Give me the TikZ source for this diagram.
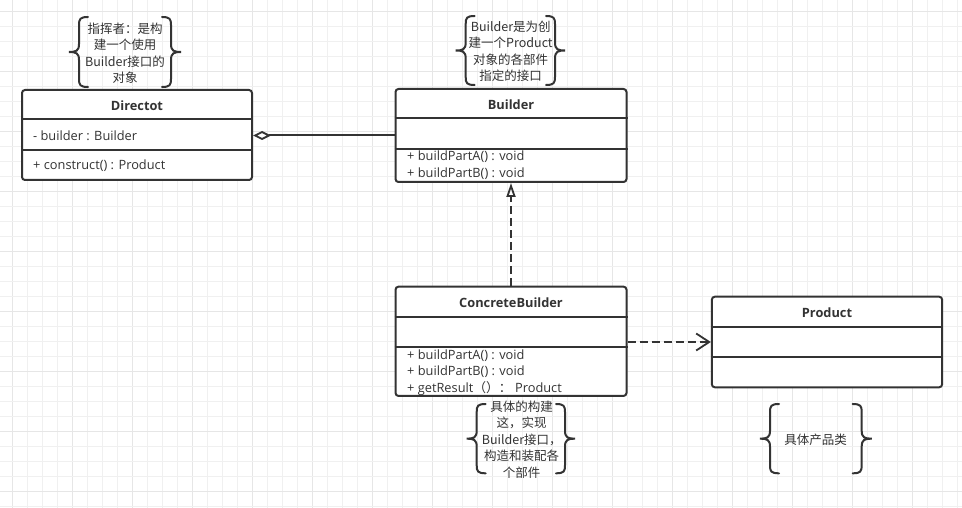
\documentclass[tikz,border=0pt]{standalone}
\usepackage{fontspec}
\setmainfont{Open Sans}
\newfontfamily\cjk{Noto Sans CJK SC}
\usetikzlibrary{arrows.meta}
\definecolor{ink}{HTML}{333333}
\definecolor{gridminor}{HTML}{F0F0F0}
\definecolor{gridmajor}{HTML}{E6E6E6}
\newcommand\mycurly[4]{%
  \pgfmathsetmacro\mymid{(#3+#4)/2}%
  \draw[bracestyle] ({#1+9},#3) .. controls ({#1+1},#3) and (#1,{#3+2}) .. (#1,{#3+8})
    -- (#1,{\mymid-8}) .. controls (#1,{\mymid-1}) and ({#1-3},\mymid) .. ({#1-10},\mymid)
    .. controls ({#1-3},\mymid) and (#1,{\mymid+1}) .. (#1,{\mymid+8})
    -- (#1,{#4-8}) .. controls (#1,{#4-2}) and ({#1+1},#4) .. ({#1+9},#4);
  \draw[bracestyle] ({#2-9},#3) .. controls ({#2-1},#3) and (#2,{#3+2}) .. (#2,{#3+8})
    -- (#2,{\mymid-8}) .. controls (#2,{\mymid-1}) and ({#2+3},\mymid) .. ({#2+10},\mymid)
    .. controls ({#2+3},\mymid) and (#2,{\mymid+1}) .. (#2,{\mymid+8})
    -- (#2,{#4-8}) .. controls (#2,{#4-2}) and ({#2-1},#4) .. ({#2-9},#4);
}
\tikzset{
  umlbox/.style={draw=ink, line width=2pt, rounded corners=3pt, fill=white, inner sep=0pt, minimum width=#1},
  sepline/.style={draw=ink, line width=2pt},
  titletext/.style={text=ink, font=\fontsize{12.8}{16}\selectfont\bfseries, inner sep=0pt},
  membertext/.style={text=ink, font=\fontsize{12.8}{16}\selectfont, inner sep=0pt, anchor=west},
  annot/.style={text=ink, font=\cjk\fontsize{12.5}{16.5}\selectfont, align=center, inner sep=0pt},
  bracestyle/.style={draw=ink, line width=2pt, line cap=round},
  conn/.style={draw=ink, line width=2pt},
  dashconn/.style={conn, dash pattern=on 8pt off 4pt}
}
\begin{document}
\begin{tikzpicture}[x=1pt,y=-1pt]
\useasboundingbox (0,0) rectangle (962,508);
\fill[white] (0,0) rectangle (962,508);
% grid
\foreach \i in {0,...,63} {
  \pgfmathsetmacro\gx{12.7+15*\i}
  \pgfmathtruncatemacro\gm{mod(\i,4)}
  \ifnum\gm=0 \draw[gridmajor, line width=0.8pt] (\gx,0) -- (\gx,508);
  \else \draw[gridminor, line width=0.8pt] (\gx,0) -- (\gx,508); \fi
}
\foreach \j in {0,...,33} {
  \pgfmathsetmacro\gy{11+15*\j}
  \pgfmathtruncatemacro\gm{mod(\j,4)}
  \ifnum\gm=0 \draw[gridmajor, line width=0.8pt] (0,\gy) -- (962,\gy);
  \else \draw[gridminor, line width=0.8pt] (0,\gy) -- (962,\gy); \fi
}

% Directot
\node[umlbox=230pt, minimum height=90pt] (dir) at (137,135) {};
\draw[sepline] (dir.west |- 0,119.5) -- (dir.east |- 0,119.5);
\draw[sepline] (dir.west |- 0,149.7) -- (dir.east |- 0,149.7);
\node[titletext] (dirt) at (137,105.3) {Directot};
\node[membertext] (dira) at (33,135.7) {- builder : Builder};
\node[membertext] (dirm) at (33,165.7) {+ construct() : Product};

% Builder
\node[umlbox=231pt, minimum height=93pt] (bld) at (511,135.5) {};
\draw[sepline] (bld.west |- 0,118.3) -- (bld.east |- 0,118.3);
\draw[sepline] (bld.west |- 0,149) -- (bld.east |- 0,149);
\node[titletext] (bldt) at (511,104.3) {Builder};
\node[membertext] (bldm1) at (407,157) {+ buildPartA() : void};
\node[membertext] (bldm2) at (407,173.3) {+ buildPartB() : void};

% ConcreteBuilder
\node[umlbox=231pt, minimum height=109.3pt] (cb) at (511,341.3) {};
\draw[sepline] (cb.west |- 0,316.7) -- (cb.east |- 0,316.7);
\draw[sepline] (cb.west |- 0,346.7) -- (cb.east |- 0,346.7);
\node[titletext] (cbt) at (511,302.3) {ConcreteBuilder};
\node[membertext] (cbm1) at (407,355.3) {+ buildPartA() : void};
\node[membertext] (cbm2) at (407,371.5) {+ buildPartB() : void};
\node[membertext] (cbm3) at (407,388.3) {+ getResult{\cjk （）：} Product};

% Product
\node[umlbox=230.3pt, minimum height=90.6pt] (prod) at (827,342) {};
\draw[sepline] (prod.west |- 0,326.7) -- (prod.east |- 0,326.7);
\draw[sepline] (prod.west |- 0,357) -- (prod.east |- 0,357);
\node[titletext] (prodt) at (827,312.3) {Product};

% connectors
\draw[conn, -{Diamond[open, length=18pt, width=9pt, line width=1.8pt]}] (bld.west) -- (bld.west -| dir.east);
\draw[dashconn, -{Triangle[open, length=14pt, width=9pt, line width=1.8pt]}] (cb.north) -- (bld.south);
\draw[dashconn, -{Straight Barb[length=13pt, width=17pt, line width=1.8pt]}] (prod.west -| cb.east) -- (prod.west);

% annotations
\mycurly{79}{171}{17}{87}
\node[annot] (n1) at (125,53.3) {指挥者：是构\\建一个使用\\Builder接口的\\对象};
\mycurly{465.7}{555}{16}{85}
\node[annot] (n2) at (510.7,51.2) {Builder是为创\\建一个Product\\对象的各部件\\指定的接口};
\mycurly{476.7}{565}{404}{473.3}
\node[annot] (n3) at (521.7,439.7) {具体的构建\\这，实现\\Builder接口，\\构造和装配各\\个部件};
\mycurly{770}{861.7}{404}{473.3}
\node[annot] (n4) at (815.7,439.3) {具体产品类};
\end{tikzpicture}
\end{document}
